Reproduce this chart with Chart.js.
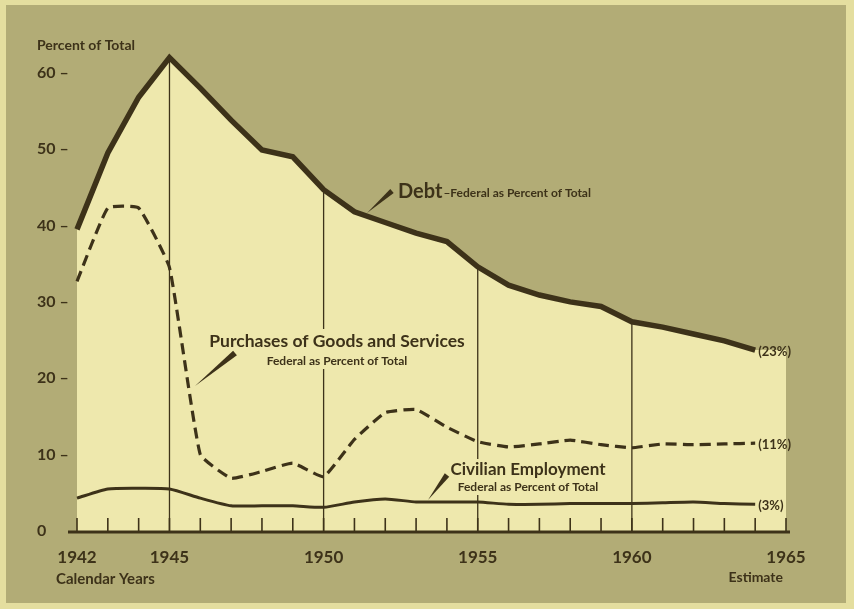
<!DOCTYPE html>
<html lang="en">
<head>
    <meta charset="UTF-8">
    <title>Federal Share: Debt, Purchases, Civilian Employment</title>
    <script src="https://cdn.jsdelivr.net/npm/chart.js"></script>
    <style>
        html, body { margin: 0; padding: 0; background: #e4de9f; }
        #wrap { position: absolute; left: 6px; top: 5px; width: 840px; height: 598px; }
    </style>
</head>
<body>
    <div id="wrap"><canvas id="shareChart"></canvas></div>
    <script>
        // Calendar years 1942 - 1964 (1965 is the axis end)
        const YEARS = [1942, 1943, 1944, 1945, 1946, 1947, 1948, 1949, 1950, 1951, 1952, 1953,
                       1954, 1955, 1956, 1957, 1958, 1959, 1960, 1961, 1962, 1963, 1964];
        const DEBT = [39.5, 49.5, 56.8, 62.0, 58.0, 53.8, 49.9, 49.0, 44.7, 41.8, 40.4, 39.0,
                      37.9, 34.6, 32.2, 30.9, 30.0, 29.4, 27.4, 26.7, 25.8, 24.9, 23.7];
        const PURCHASES = [32.7, 42.3, 42.3, 34.5, 10.0, 6.9, 7.8, 8.9, 7.1, 12.0, 15.5, 15.9,
                           13.6, 11.7, 11.0, 11.4, 11.9, 11.3, 10.9, 11.4, 11.3, 11.4, 11.5];
        const CIVILIAN = [4.3, 5.5, 5.6, 5.5, 4.3, 3.3, 3.3, 3.3, 3.1, 3.8, 4.2, 3.8,
                          3.8, 3.8, 3.5, 3.5, 3.6, 3.6, 3.6, 3.7, 3.8, 3.6, 3.5];
        const END_LABELS = ['(23%)', '(11%)', '(3%)'];
        const MARKED_YEARS = [1945, 1950, 1955, 1960];
        const LABELED_YEARS = [1942, 1945, 1950, 1955, 1960, 1965];

        const INK = '#3d3219';
        const PAPER = '#eee8ad';
        const TAN = '#b2ac76';
        const FONT = 'Lato, "DejaVu Sans", sans-serif';

        const pts = vals => vals.map((v, i) => ({ x: YEARS[i], y: v }));

        function wedge(ctx, bx, by, tx, ty, hw) {
            const dx = tx - bx, dy = ty - by, len = Math.hypot(dx, dy);
            const nx = -dy / len * hw, ny = dx / len * hw;
            ctx.beginPath();
            ctx.moveTo(bx + nx, by + ny);
            ctx.lineTo(tx, ty);
            ctx.lineTo(bx - nx, by - ny);
            ctx.closePath();
            ctx.fill();
        }

        const chartDecor = {
            id: 'chartDecor',
            beforeDraw(chart) {
                const { ctx, width, height } = chart;
                ctx.save();
                ctx.fillStyle = TAN;
                ctx.fillRect(0, 0, width, height);
                ctx.restore();
            },
            beforeDatasetsDraw(chart) {
                const { ctx, chartArea: a, scales: { x, y } } = chart;
                ctx.save();
                // light field under the debt line
                ctx.beginPath();
                ctx.moveTo(x.getPixelForValue(YEARS[0]), y.getPixelForValue(0));
                DEBT.forEach((v, i) => ctx.lineTo(x.getPixelForValue(YEARS[i]), y.getPixelForValue(v)));
                ctx.lineTo(a.right, y.getPixelForValue(DEBT[DEBT.length - 1]));
                ctx.lineTo(a.right, y.getPixelForValue(0));
                ctx.closePath();
                ctx.fillStyle = PAPER;
                ctx.fill();

                // thin rules up to the debt line
                ctx.strokeStyle = INK;
                ctx.lineWidth = 1.3;
                MARKED_YEARS.forEach(yr => {
                    const i = YEARS.indexOf(yr);
                    const px = x.getPixelForValue(yr);
                    ctx.beginPath();
                    ctx.moveTo(px, a.bottom);
                    ctx.lineTo(px, y.getPixelForValue(DEBT[i]));
                    ctx.stroke();
                });

                // year ticks pointing up
                ctx.lineWidth = 1.6;
                x.ticks.forEach(t => {
                    const px = x.getPixelForValue(t.value);
                    ctx.beginPath();
                    ctx.moveTo(px, a.bottom);
                    ctx.lineTo(px, a.bottom - 13);
                    ctx.stroke();
                });

                // base line
                ctx.lineWidth = 3;
                ctx.beginPath();
                ctx.moveTo(a.left - 9, a.bottom + 1);
                ctx.lineTo(a.right + 4, a.bottom + 1);
                ctx.stroke();
                ctx.restore();
            },
            afterDatasetsDraw(chart) {
                const { ctx, scales: { x, y } } = chart;
                ctx.save();
                ctx.fillStyle = INK;

                // end-of-line values
                ctx.font = `bold 13px ${FONT}`;
                ctx.textBaseline = 'middle';
                ctx.textAlign = 'left';
                [DEBT, PURCHASES, CIVILIAN].forEach((s, k) => {
                    const n = s.length - 1;
                    ctx.fillText(END_LABELS[k], x.getPixelForValue(YEARS[n]) + 3, y.getPixelForValue(s[n]) + 2);
                });

                // axis captions
                ctx.font = `bold 14px ${FONT}`;
                ctx.fillText('Percent of Total', 31, 40);
                ctx.font = `bold 15px ${FONT}`;
                ctx.fillText('Calendar Years', 50, 574);
                ctx.textAlign = 'right';
                ctx.font = `bold 14px ${FONT}`;
                ctx.fillText('Estimate', 777, 572);

                // Debt annotation
                ctx.textAlign = 'left';
                ctx.textBaseline = 'alphabetic';
                ctx.font = `bold 20px ${FONT}`;
                ctx.fillText('Debt', 392, 193);
                const dw = ctx.measureText('Debt').width;
                ctx.font = `bold 12px ${FONT}`;
                ctx.fillText('\u2013Federal as Percent of Total', 392 + dw + 1, 192);
                wedge(ctx, 386, 186, 361, 208, 2.6);

                // Purchases annotation
                ctx.fillStyle = PAPER;
                ctx.fillRect(202, 324, 258, 40);
                ctx.fillStyle = INK;
                ctx.textAlign = 'center';
                ctx.font = `bold 17.5px ${FONT}`;
                ctx.fillText('Purchases of Goods and Services', 331, 342);
                ctx.font = `bold 12px ${FONT}`;
                ctx.fillText('Federal as Percent of Total', 331, 360);
                wedge(ctx, 229, 348, 189, 381, 3);

                // Civilian annotation
                ctx.fillStyle = PAPER;
                ctx.fillRect(444, 454, 158, 36);
                ctx.fillStyle = INK;
                ctx.font = `bold 17px ${FONT}`;
                ctx.fillText('Civilian Employment', 522, 470);
                ctx.font = `bold 12px ${FONT}`;
                ctx.fillText('Federal as Percent of Total', 522, 486);
                wedge(ctx, 441, 470, 422, 495, 2.8);
                ctx.restore();
            }
        };

        const ctx = document.getElementById('shareChart').getContext('2d');
        new Chart(ctx, {
            type: 'line',
            data: {
                datasets: [
                    { label: 'Debt', data: pts(DEBT), borderColor: INK, borderWidth: 5.5,
                      borderJoinStyle: 'miter', tension: 0, pointRadius: 0, fill: false },
                    { label: 'Purchases of Goods and Services', data: pts(PURCHASES), borderColor: INK,
                      borderWidth: 3.2, borderDash: [11, 6], tension: 0.12, pointRadius: 0, fill: false },
                    { label: 'Civilian Employment', data: pts(CIVILIAN), borderColor: INK,
                      borderWidth: 3, tension: 0.2, pointRadius: 0, fill: false }
                ]
            },
            options: {
                responsive: true,
                maintainAspectRatio: false,
                animation: false,
                clip: false,
                layout: { padding: { left: 31, right: 60, top: 22, bottom: 0 } },
                plugins: { legend: { display: false }, tooltip: { enabled: false } },
                scales: {
                    x: {
                        type: 'linear', min: 1942, max: 1965,
                        grid: { display: false }, border: { display: false },
                        afterFit: s => { s.height = 72; },
                        ticks: {
                            stepSize: 1, autoSkip: false, maxRotation: 0, padding: 8,
                            color: INK, font: { family: FONT, size: 17, weight: 'bold' },
                            callback: v => LABELED_YEARS.includes(v) ? String(v) : ''
                        }
                    },
                    y: {
                        min: 0, max: 66,
                        grid: { display: false }, border: { display: false },
                        afterFit: s => { s.width = 40; },
                        ticks: {
                            stepSize: 10, includeBounds: false, crossAlign: 'far',
                            color: INK, font: { family: FONT, size: 16, weight: 'bold' },
                            callback: v => v % 10 !== 0 ? '' : (v === 0 ? '0' : v + ' \u2013')
                        }
                    }
                }
            },
            plugins: [chartDecor]
        });
    </script>
</body>
</html>
